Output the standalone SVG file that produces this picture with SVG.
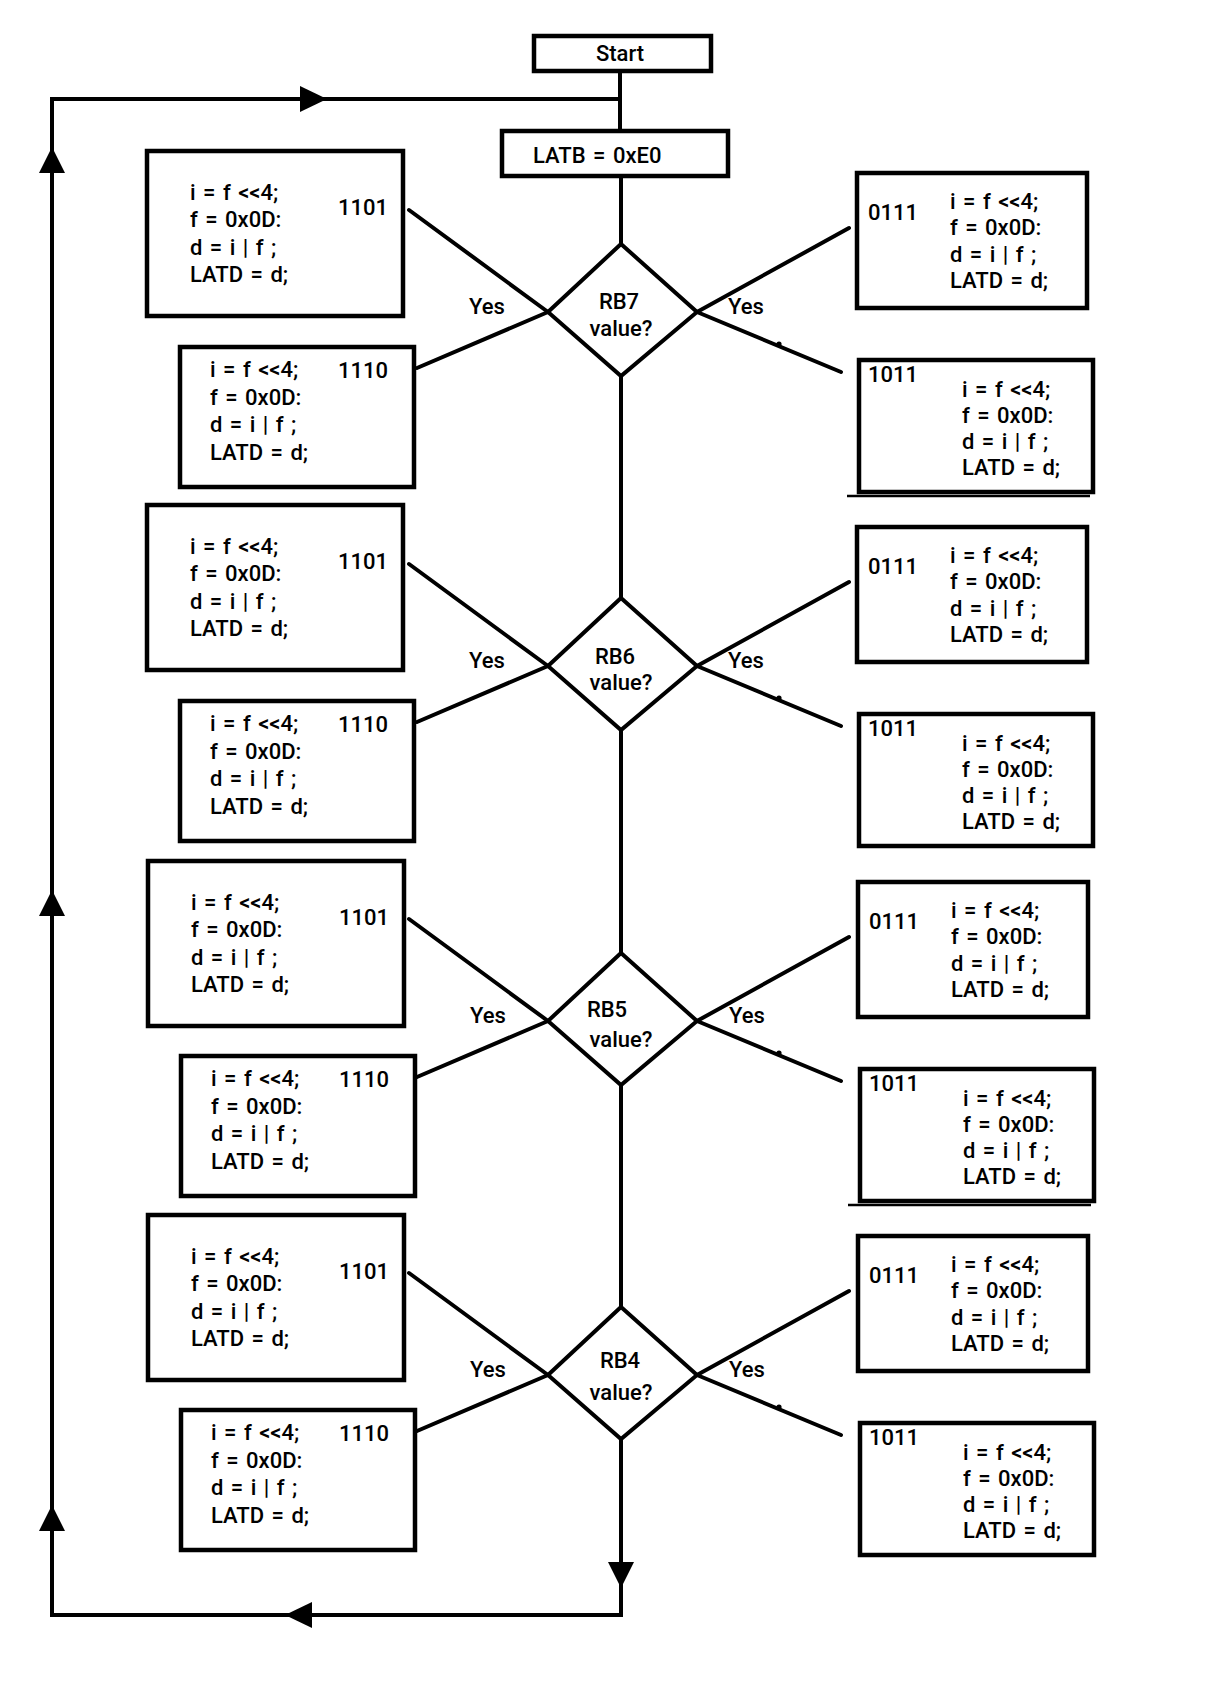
<svg xmlns="http://www.w3.org/2000/svg" width="1206" height="1700" viewBox="0 0 1206 1700">
<style>
  .box { fill: #fff; stroke: #000; stroke-width: 4.5; }
  .dia { fill: #fff; stroke: #000; stroke-width: 4; stroke-linejoin: miter; }
  .ln { fill: none; stroke: #000; stroke-width: 4; }
  .br { fill: none; stroke: #000; stroke-width: 4; stroke-linecap: round; }
  .ah { fill: #000; stroke: none; }
  text { font-family: Roboto, "Liberation Sans", sans-serif; font-size: 22px; font-weight: 500; fill: #000; word-spacing: 2px; }
  .mid { text-anchor: middle; }
</style>
<defs>
  <g id="branchSet">
    <line class="br" x1="409" y1="210" x2="548" y2="312"/>
    <line class="br" x1="417" y1="368" x2="548" y2="312"/>
    <line class="br" x1="697" y1="312" x2="849" y2="228"/>
    <line class="br" x1="697" y1="312" x2="841" y2="372"/>
    <circle cx="779" cy="344" r="2.6" fill="#000"/>
  </g>
</defs>

<rect width="1206" height="1700" fill="#fff"/>

<g id="connectors">
  <line class="ln" x1="620" y1="72" x2="620" y2="130"/>
  <line class="ln" x1="621" y1="177" x2="621" y2="244"/>
  <line class="ln" x1="621" y1="375" x2="621" y2="598"/>
  <line class="ln" x1="621" y1="729" x2="621" y2="953"/>
  <line class="ln" x1="621" y1="1084" x2="621" y2="1307"/>
  <line class="ln" x1="621" y1="1438" x2="621" y2="1617"/>
  <polyline class="ln" points="621,1615 52,1615 52,99 622,99"/>
  <polygon class="ah" points="327,99 300,86 300,112"/>
  <polygon class="ah" points="52,147 39,173 65,173"/>
  <polygon class="ah" points="52,890 39,916 65,916"/>
  <polygon class="ah" points="52,1505 39,1531 65,1531"/>
  <polygon class="ah" points="621,1588 608,1562 634,1562"/>
  <polygon class="ah" points="285,1615 312,1602 312,1628"/>
  <use href="#branchSet"/>
  <use href="#branchSet" transform="translate(0,354)"/>
  <use href="#branchSet" transform="translate(0,709)"/>
  <use href="#branchSet" transform="translate(0,1063)"/>
</g>

<g id="start">
  <rect class="box" x="534" y="36" width="177" height="35"/>
  <text class="mid" x="620" y="61">Start</text>
</g>
<g id="latb">
  <rect class="box" x="502" y="131" width="226" height="45"/>
  <text x="533" y="163">LATB = 0xE0</text>
</g>

<!-- ===== RB7 section ===== -->
<g id="rb7">
  <g id="rb7-decision">
    <polygon class="dia" points="621,244 697,312 621,376 548,312"/>
    <text class="mid" x="619" y="309">RB7<tspan x="621" dy="27">value?</tspan></text>
  </g>
  <g id="rb7-yes-labels">
    <text class="mid" x="487" y="314">Yes</text>
    <text class="mid" x="746" y="314">Yes</text>
  </g>
  <g id="rb7-1101">
    <rect class="box" x="147" y="151" width="256" height="165"/>
    <text x="190" y="200">i = f &lt;&lt;4;<tspan x="190" dy="27">f = 0x0D:</tspan><tspan x="190" dy="28">d = i | f ;</tspan><tspan x="190" dy="27">LATD = d;</tspan></text>
    <text x="338" y="215">1101</text>
  </g>
  <g id="rb7-1110">
    <rect class="box" x="180" y="347" width="234" height="140"/>
    <text x="210" y="377">i = f &lt;&lt;4;<tspan x="210" dy="28">f = 0x0D:</tspan><tspan x="210" dy="27">d = i | f ;</tspan><tspan x="210" dy="28">LATD = d;</tspan></text>
    <text x="338" y="378">1110</text>
  </g>
  <g id="rb7-0111">
    <rect class="box" x="857" y="173" width="230" height="135"/>
    <text x="868" y="220">0111</text>
    <text x="950" y="209">i = f &lt;&lt;4;<tspan x="950" dy="26">f = 0x0D:</tspan><tspan x="950" dy="27">d = i | f ;</tspan><tspan x="950" dy="26">LATD = d;</tspan></text>
  </g>
  <g id="rb7-1011">
    <rect class="box" x="859" y="360" width="234" height="132"/>
    <line x1="847" y1="496" x2="1090" y2="496" stroke="#000" stroke-width="2.5"/>
    <text x="868" y="382">1011</text>
    <text x="962" y="397">i = f &lt;&lt;4;<tspan x="962" dy="26">f = 0x0D:</tspan><tspan x="962" dy="26">d = i | f ;</tspan><tspan x="962" dy="26">LATD = d;</tspan></text>
  </g>
</g>

<!-- ===== RB6 section ===== -->
<g id="rb6" transform="translate(0,354)">
  <g id="rb6-decision">
    <polygon class="dia" points="621,244 697,312 621,376 548,312"/>
    <text class="mid" x="615" y="310">RB6<tspan x="621" dy="26">value?</tspan></text>
  </g>
  <g id="rb6-yes-labels">
    <text class="mid" x="487" y="314">Yes</text>
    <text class="mid" x="746" y="314">Yes</text>
  </g>
  <g id="rb6-1101">
    <rect class="box" x="147" y="151" width="256" height="165"/>
    <text x="190" y="200">i = f &lt;&lt;4;<tspan x="190" dy="27">f = 0x0D:</tspan><tspan x="190" dy="28">d = i | f ;</tspan><tspan x="190" dy="27">LATD = d;</tspan></text>
    <text x="338" y="215">1101</text>
  </g>
  <g id="rb6-1110">
    <rect class="box" x="180" y="347" width="234" height="140"/>
    <text x="210" y="377">i = f &lt;&lt;4;<tspan x="210" dy="28">f = 0x0D:</tspan><tspan x="210" dy="27">d = i | f ;</tspan><tspan x="210" dy="28">LATD = d;</tspan></text>
    <text x="338" y="378">1110</text>
  </g>
  <g id="rb6-0111">
    <rect class="box" x="857" y="173" width="230" height="135"/>
    <text x="868" y="220">0111</text>
    <text x="950" y="209">i = f &lt;&lt;4;<tspan x="950" dy="26">f = 0x0D:</tspan><tspan x="950" dy="27">d = i | f ;</tspan><tspan x="950" dy="26">LATD = d;</tspan></text>
  </g>
  <g id="rb6-1011">
    <rect class="box" x="859" y="360" width="234" height="132"/>
    <text x="868" y="382">1011</text>
    <text x="962" y="397">i = f &lt;&lt;4;<tspan x="962" dy="26">f = 0x0D:</tspan><tspan x="962" dy="26">d = i | f ;</tspan><tspan x="962" dy="26">LATD = d;</tspan></text>
  </g>
</g>

<!-- ===== RB5 section ===== -->
<g id="rb5" transform="translate(0,709)">
  <g id="rb5-decision">
    <polygon class="dia" points="621,244 697,312 621,376 548,312"/>
    <text class="mid" x="607" y="308">RB5<tspan x="621" dy="30">value?</tspan></text>
  </g>
  <g id="rb5-yes-labels">
    <text class="mid" x="488" y="314">Yes</text>
    <text class="mid" x="747" y="314">Yes</text>
  </g>
  <g id="rb5-1101">
    <rect class="box" x="148" y="152" width="256" height="165"/>
    <text x="191" y="201">i = f &lt;&lt;4;<tspan x="191" dy="27">f = 0x0D:</tspan><tspan x="191" dy="28">d = i | f ;</tspan><tspan x="191" dy="27">LATD = d;</tspan></text>
    <text x="339" y="216">1101</text>
  </g>
  <g id="rb5-1110">
    <rect class="box" x="181" y="347" width="234" height="140"/>
    <text x="211" y="377">i = f &lt;&lt;4;<tspan x="211" dy="28">f = 0x0D:</tspan><tspan x="211" dy="27">d = i | f ;</tspan><tspan x="211" dy="28">LATD = d;</tspan></text>
    <text x="339" y="378">1110</text>
  </g>
  <g id="rb5-0111">
    <rect class="box" x="858" y="173" width="230" height="135"/>
    <text x="869" y="220">0111</text>
    <text x="951" y="209">i = f &lt;&lt;4;<tspan x="951" dy="26">f = 0x0D:</tspan><tspan x="951" dy="27">d = i | f ;</tspan><tspan x="951" dy="26">LATD = d;</tspan></text>
  </g>
  <g id="rb5-1011">
    <rect class="box" x="860" y="360" width="234" height="132"/>
    <line x1="848" y1="496" x2="1091" y2="496" stroke="#000" stroke-width="2.5"/>
    <text x="869" y="382">1011</text>
    <text x="963" y="397">i = f &lt;&lt;4;<tspan x="963" dy="26">f = 0x0D:</tspan><tspan x="963" dy="26">d = i | f ;</tspan><tspan x="963" dy="26">LATD = d;</tspan></text>
  </g>
</g>

<!-- ===== RB4 section ===== -->
<g id="rb4" transform="translate(0,1063)">
  <g id="rb4-decision">
    <polygon class="dia" points="621,244 697,312 621,376 548,312"/>
    <text class="mid" x="620" y="305">RB4<tspan x="621" dy="32">value?</tspan></text>
  </g>
  <g id="rb4-yes-labels">
    <text class="mid" x="488" y="314">Yes</text>
    <text class="mid" x="747" y="314">Yes</text>
  </g>
  <g id="rb4-1101">
    <rect class="box" x="148" y="152" width="256" height="165"/>
    <text x="191" y="201">i = f &lt;&lt;4;<tspan x="191" dy="27">f = 0x0D:</tspan><tspan x="191" dy="28">d = i | f ;</tspan><tspan x="191" dy="27">LATD = d;</tspan></text>
    <text x="339" y="216">1101</text>
  </g>
  <g id="rb4-1110">
    <rect class="box" x="181" y="347" width="234" height="140"/>
    <text x="211" y="377">i = f &lt;&lt;4;<tspan x="211" dy="28">f = 0x0D:</tspan><tspan x="211" dy="27">d = i | f ;</tspan><tspan x="211" dy="28">LATD = d;</tspan></text>
    <text x="339" y="378">1110</text>
  </g>
  <g id="rb4-0111">
    <rect class="box" x="858" y="173" width="230" height="135"/>
    <text x="869" y="220">0111</text>
    <text x="951" y="209">i = f &lt;&lt;4;<tspan x="951" dy="26">f = 0x0D:</tspan><tspan x="951" dy="27">d = i | f ;</tspan><tspan x="951" dy="26">LATD = d;</tspan></text>
  </g>
  <g id="rb4-1011">
    <rect class="box" x="860" y="360" width="234" height="132"/>
    <text x="869" y="382">1011</text>
    <text x="963" y="397">i = f &lt;&lt;4;<tspan x="963" dy="26">f = 0x0D:</tspan><tspan x="963" dy="26">d = i | f ;</tspan><tspan x="963" dy="26">LATD = d;</tspan></text>
  </g>
</g>
</svg>
